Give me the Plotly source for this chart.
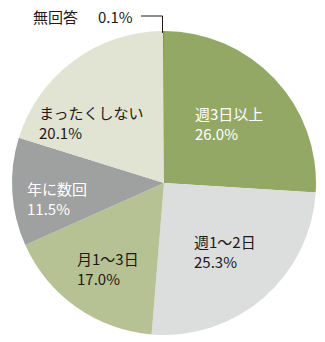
import plotly.graph_objects as go

# Survey answer shares (%)
categories = ["週3日以上", "週1〜2日", "月1〜3日", "年に数回", "まったくしない", "無回答"]
shares = [26.0, 25.3, 17.0, 11.5, 20.1, 0.1]
colors = ["#94a866", "#dcdddd", "#b6c293", "#9fa0a0", "#e1e3d3", "#7d7d7d"]
text_colors = ["#ffffff", "#231815", "#231815", "#ffffff", "#231815", "#231815"]

W, H = 325, 342
FONT = "Noto Sans CJK JP"
FS = 15

def px(x, y):
    return x / W, 1 - y / H

fig = go.Figure(go.Pie(
    labels=categories,
    values=shares,
    sort=False,
    direction="clockwise",
    rotation=0,
    marker=dict(colors=colors, line=dict(width=0)),
    textinfo="none",
    hoverinfo="label+percent",
    domain=dict(x=[11 / W, 317 / W], y=[(H - 335) / H, (H - 31) / H]),
    showlegend=False,
))

# label anchor positions in pixels: (left x, centre y of first line)
label_pos = [(193, 113), (192, 241), (75, 258), (25, 188), (37, 112)]
LINE_GAP = 20.5
annotations = []
for name, val, (x, y), tc in zip(categories[:5], shares[:5], label_pos, text_colors[:5]):
    for i, txt in enumerate([name, f"{val:.1f}%"]):
        ax, ay = px(x, y + i * LINE_GAP)
        annotations.append(dict(
            x=ax, y=ay, xref="paper", yref="paper",
            xanchor="left", yanchor="middle", align="left",
            text=txt, showarrow=False,
            font=dict(family=FONT, size=FS, color=tc),
        ))

# no-answer label with leader line
for txt, x in [(categories[5], 31), (f"{shares[5]:.1f}%", 96)]:
    ax, ay = px(x, 17)
    annotations.append(dict(
        x=ax, y=ay, xref="paper", yref="paper",
        xanchor="left", yanchor="middle", align="left",
        text=txt, showarrow=False,
        font=dict(family=FONT, size=FS, color="#231815"),
    ))

x0, y0 = px(141, 16)
x1, y1 = px(162.5, 16)
x2, y2 = px(162.5, 33)
shapes = [
    dict(type="line", xref="paper", yref="paper", x0=x0, y0=y0, x1=x1, y1=y1,
         line=dict(color="#231815", width=1)),
    dict(type="line", xref="paper", yref="paper", x0=x1, y0=y1, x1=x2, y1=y2,
         line=dict(color="#231815", width=1)),
]

fig.update_layout(
    width=W, height=H,
    margin=dict(l=0, r=0, t=0, b=0),
    paper_bgcolor="#ffffff",
    plot_bgcolor="#ffffff",
    annotations=annotations,
    shapes=shapes,
)

fig.write_html("out.html")
